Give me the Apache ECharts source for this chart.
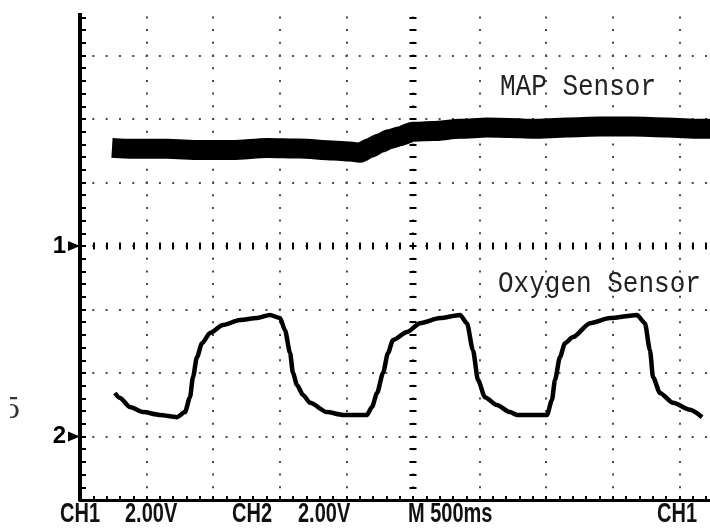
<!DOCTYPE html>
<html><head><meta charset="utf-8">
<script src="https://cdn.jsdelivr.net/npm/echarts@6/dist/echarts.min.js"></script>
<style>html,body{margin:0;padding:0;background:#fff}#c{width:710px;height:529px}</style>
</head><body><div id="c"></div>
<script>
// CH1 - MAP sensor (time in ms, volts relative to CH1 ground)
const mapTime = [240,398,653,901,1149,1404,1652,1899,2027,2102,2177,2252,2327,2403,2500,2650,2853,3056,3228,3401,3656,3904,4152,4407,4655,4730];
const mapVolts = [3.09,3.06,3.06,3.02,3.02,3.09,3.07,3.01,2.98,2.94,3.09,3.24,3.37,3.46,3.60,3.62,3.69,3.73,3.72,3.69,3.73,3.76,3.76,3.73,3.69,3.69];
// CH2 - Oxygen sensor (time in ms, volts relative to CH2 ground)
const o2Time = [262,300,375,473,600,728,788,826,848,878,916,976,1073,1201,1329,1426,1502,1539,1577,1599,1629,1674,1727,1854,1974,2154,2192,2230,2275,2312,2350,2455,2553,2703,2853,2905,2950,2988,3040,3130,3228,3281,3506,3543,3566,3603,3641,3701,3829,3979,4181,4241,4279,4302,4354,4452,4580,4670];
const o2Volts = [1.37,1.21,0.93,0.77,0.68,0.61,0.77,1.24,1.87,2.50,2.94,3.26,3.51,3.67,3.73,3.83,3.73,3.35,2.63,2.00,1.62,1.31,1.06,0.77,0.68,0.68,0.93,1.37,2.00,2.63,3.04,3.29,3.57,3.73,3.83,3.57,2.72,1.78,1.24,0.99,0.77,0.68,0.68,1.15,1.78,2.50,2.94,3.13,3.57,3.73,3.83,3.57,2.72,1.87,1.37,1.06,0.84,0.61];
const bottomLabels = ['CH1','2.00V','CH2','2.00V','M 500ms','CH1'];
const channelMarkers = ['1','2'];
const traceNames = ['MAP Sensor','Oxygen Sensor'];
const strayText = '5';

const zip = (a,b)=>a.map((t,i)=>[t,b[i]]);
const chart = echarts.init(document.getElementById('c'), null, {renderer:'canvas'});
const dotColor = '#4a4a4a';
const tickStyle = (len)=>({show:true,inside:true,length:len,lineStyle:{color:'#000',width:2}});
const minorStyle = (len)=>({show:true,splitNumber:5,length:len,lineStyle:{color:'#000',width:2}});
const hidden = {show:false};
const labelX = [60,125,232,298,408,657];
const markerLabel = {show:true,position:'left',distance:2,color:'#000',fontSize:24,fontWeight:'bold',fontFamily:'"Liberation Sans", Arial, sans-serif'};
const tri = 'path://M0,0 L12,5 L0,10 Z';

const option = {
  animation:false,
  backgroundColor:'#fff',
  grid:{left:80, top:-8, right:-36, bottom:29, containLabel:false, outerBoundsMode:'none'},
  xAxis:[
    {type:'value',min:0,max:5000,interval:500,position:'bottom',
     axisLine:{show:true,onZero:false,lineStyle:{color:'#000',width:3}},
     axisTick:tickStyle(4), minorTick:minorStyle(4),
     axisLabel:hidden,
     splitLine:{show:true,lineStyle:{color:dotColor,width:2,type:[2,10.7],dashOffset:1}}},
    {type:'value',min:0,max:5000,interval:500,position:'bottom',offset:-250.5,
     axisLine:{show:false,onZero:false},
     axisTick:tickStyle(7), minorTick:minorStyle(7),
     axisLabel:hidden, splitLine:hidden}
  ],
  yAxis:[
    {type:'value',min:-8,max:8,interval:2,position:'left',
     axisLine:{show:true,onZero:false,lineStyle:{color:'#000',width:4}},
     axisTick:tickStyle(6), minorTick:minorStyle(6),
     axisLabel:hidden,
     splitLine:{show:true,lineStyle:{color:dotColor,width:2,type:[2,11.32],dashOffset:1}}},
    {type:'value',min:-2,max:14,interval:2,show:false,axisLine:{onZero:false}},
    {type:'value',min:-8,max:8,interval:2,position:'left',offset:-329.5,
     axisLine:{show:false,onZero:false},
     axisTick:tickStyle(7), minorTick:minorStyle(7),
     axisLabel:hidden, splitLine:hidden}
  ],
  series:[
    {type:'line',name:traceNames[0],xAxisIndex:0,yAxisIndex:0,silent:true,
     data:zip(mapTime,mapVolts),symbol:'none',smooth:0.25,smoothMonotone:'x',
     lineStyle:{color:'#000',width:20,join:'round'},
     markPoint:{silent:true,data:[{coord:[0,0],symbol:tri,symbolSize:[12,10],symbolOffset:[-6,0],
       itemStyle:{color:'#000'},label:Object.assign({formatter:channelMarkers[0]},markerLabel)}]}},
    {type:'line',name:traceNames[1],xAxisIndex:0,yAxisIndex:1,silent:true,
     data:zip(o2Time,o2Volts),symbol:'none',smooth:0.25,smoothMonotone:'x',
     lineStyle:{color:'#000',width:4.5,join:'round'},
     markPoint:{silent:true,data:[{coord:[0,0],symbol:tri,symbolSize:[12,10],symbolOffset:[-6,0],
       itemStyle:{color:'#000'},label:Object.assign({formatter:channelMarkers[1]},markerLabel)}]}}
  ],
  graphic:[
    {type:'rect',z:100,shape:{x:0,y:0,width:710,height:13},style:{fill:'#fff'}},
    {type:'text',z:101,x:500,y:87,scaleY:1.15,style:{text:traceNames[0],font:'26px "Liberation Mono", monospace',fill:'#222',align:'left',verticalAlign:'middle'}},
    {type:'text',z:101,x:498,y:284,scaleY:1.15,style:{text:traceNames[1],font:'26px "Liberation Mono", monospace',fill:'#222',align:'left',verticalAlign:'middle'}},
    {type:'text',z:101,x:3,y:411,style:{text:strayText,font:'28px "DejaVu Serif", serif',fill:'#333',align:'left',verticalAlign:'middle'}},
    {type:'rect',z:102,shape:{x:0,y:390,width:10,height:42},style:{fill:'#fff'}}
  ].concat(bottomLabels.map((t,i)=>({type:'text',z:101,x:labelX[i],y:514.5,scaleY:1.38,
    style:{text:t,font:'bold 20px "Liberation Sans", Arial, sans-serif',fill:'#111',align:'left',verticalAlign:'middle'}})))
};
chart.setOption(option);
</script></body></html>
